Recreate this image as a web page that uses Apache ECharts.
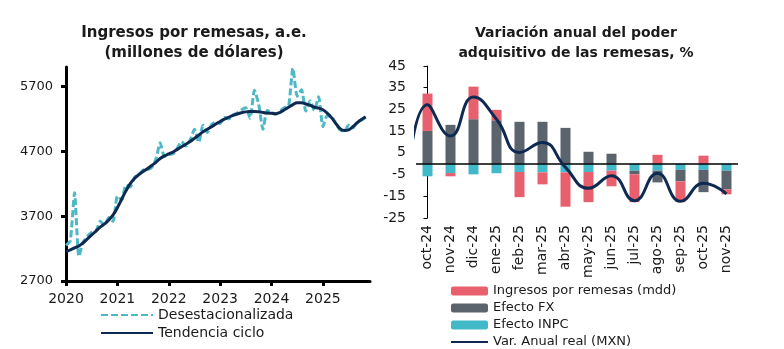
<!DOCTYPE html>
<html>
<head>
<meta charset="utf-8">
<script src="https://cdn.jsdelivr.net/npm/echarts@6/dist/echarts.min.js"></script>
<style>
  html, body { margin: 0; padding: 0; background: #ffffff; }
  #chart { width: 784px; height: 349px; }
</style>
</head>
<body>
<div id="chart"></div>
<script>
// ---- Ingresos por remesas (mensual, ene-2020 a nov-2025), millones de dólares ----
const yearTicks = [2020, 2021, 2022, 2023, 2024, 2025];
const remesasTickValues = [2700, 3700, 4700, 5700];
const desestacionalizada = [
  3250, 3320, 4060, 3080, 3300, 3390, 3450, 3470, 3620, 3560, 3680, 3620,
  4010, 3950, 4180, 4150, 4300, 4340, 4410, 4420, 4450, 4580, 4830, 4620,
  4650, 4660, 4750, 4850, 4780, 4870, 5040, 4840, 5100, 4990, 5110, 5150,
  5130, 5220, 5200, 5260, 5290, 5340, 5370, 5210, 5640, 5430, 5040, 5330,
  5300, 5270, 5320, 5370, 5400, 5980, 5550, 5650, 5320, 5480, 5330, 5540,
  5080, 5250, 5240, 5130, 5030, 5010, 5100, 5060, 5150, 5180, 5230
];
const tendenciaCiclo = [
  3150, 3180, 3210, 3240, 3290, 3350, 3410, 3470, 3530, 3580, 3640, 3720,
  3830, 3960, 4090, 4200, 4280, 4340, 4390, 4430, 4480, 4530, 4590, 4630,
  4660, 4690, 4730, 4770, 4810, 4850, 4900, 4950, 5000, 5040, 5080, 5120,
  5160, 5195, 5225, 5255, 5275, 5295, 5308, 5313, 5315, 5310, 5300, 5290,
  5285, 5280, 5300, 5340, 5380, 5420, 5450, 5450, 5430, 5410, 5380, 5365,
  5340, 5290, 5220, 5130, 5050, 5020, 5030, 5080, 5140, 5190, 5230
];

// ---- Variación anual del poder adquisitivo de las remesas, % ----
const meses = ['oct-24', 'nov-24', 'dic-24', 'ene-25', 'feb-25', 'mar-25', 'abr-25',
  'may-25', 'jun-25', 'jul-25', 'ago-25', 'sep-25', 'oct-25', 'nov-25'];
const pctTickValues = [-25, -15, -5, 5, 15, 25, 35, 45];
const efectoINPC = [-5.8, -4.3, -4.9, -4.4, -3.8, -4.0, -4.0, -3.8, -3.2, -3.2, -3.2, -2.8, -2.8, -3.2];
const efectoFX = [15.1, 17.9, 20.5, 20.0, 19.3, 19.3, 16.5, 5.5, 4.6, -1.7, -5.4, -5.3, -10.3, -8.6];
const ingresosMdd = [17.2, -1.5, 15.0, 4.8, -11.6, -5.5, -15.8, -13.9, -7.2, -12.8, 4.1, -9.6, 3.7, -2.3];
// the real annual change also has a sep-24 value, which falls just left of the plot
const varAnualSep24 = -24;
const varAnualReal = [27.1, 12.8, 30.7, 20.5, 5.2, 9.8, -1.7, -11.3, -5.5, -17.0, -4.4, -17.3, -9.0, -13.9];

const FONT = 'DejaVu Sans';
const TXT = '#1a1a1a';
const C_PINK = '#e8606e';
const C_GRAY = '#5b636d';
const C_CYAN = '#42b9c9';
const C_NAVY = '#0f2a52';
const C_TEAL = '#4db8c6';

const monthIdx = desestacionalizada.map((_, i) => i);
const varAnualPoints = [[-1, varAnualSep24]].concat(varAnualReal.map((v, i) => [i, v]));
const noSymbol = { opacity: 0 };

const chart = echarts.init(document.getElementById('chart'), null, { renderer: 'canvas' });

chart.setOption({
  backgroundColor: '#ffffff',
  animation: false,
  textStyle: { fontFamily: FONT, color: TXT },
  title: [
    {
      text: 'Ingresos por remesas, a.e.\n(millones de dólares)',
      left: 194, top: 23, textAlign: 'center', padding: 0,
      textStyle: { fontFamily: FONT, fontSize: 15, fontWeight: 'bold', color: TXT, lineHeight: 20 }
    },
    {
      text: 'Variación anual del poder\nadquisitivo de las remesas, %',
      left: 576, top: 23, textAlign: 'center', padding: 0,
      textStyle: { fontFamily: FONT, fontSize: 14, fontWeight: 'bold', color: TXT, lineHeight: 20 }
    }
  ],
  legend: [
    {
      data: [
        { name: 'Desestacionalizada', itemStyle: noSymbol },
        { name: 'Tendencia ciclo', itemStyle: noSymbol }
      ],
      orient: 'vertical', left: 100, top: 308, padding: 0, height: 60,
      itemWidth: 52, itemHeight: 14, itemGap: 4,
      textStyle: { fontFamily: FONT, fontSize: 14, color: TXT, lineHeight: 14 }
    },
    {
      data: [
        'Ingresos por remesas (mdd)', 'Efecto FX', 'Efecto INPC',
        { name: 'Var. Anual real (MXN)', itemStyle: noSymbol }
      ],
      orient: 'vertical', left: 450, top: 284, padding: 0, height: 90,
      itemWidth: 37, itemHeight: 9, itemGap: 3,
      textStyle: { fontFamily: FONT, fontSize: 13, color: TXT, lineHeight: 14 }
    }
  ],
  grid: [
    { left: 66, top: 67, width: 304, height: 214 },
    { left: 416, top: 66, width: 322, height: 152 }
  ],
  xAxis: [
    {
      gridIndex: 0, type: 'value', min: 0, max: 71,
      axisLine: { show: true, lineStyle: { color: '#000', width: 3 } },
      axisTick: { show: true, length: 5, lineStyle: { color: '#000', width: 3 },
                  customValues: yearTicks.map(y => (y - 2020) * 12) },
      axisLabel: { customValues: yearTicks.map(y => (y - 2020) * 12),
                   formatter: v => String(2020 + Math.round(v / 12)),
                   fontFamily: FONT, fontSize: 14, color: TXT, margin: 11 },
      splitLine: { show: false }
    },
    {
      gridIndex: 1, type: 'category', data: meses, boundaryGap: true,
      axisLine: { show: false, onZero: false },
      axisTick: { show: false },
      axisLabel: { rotate: 90, interval: 0, fontFamily: FONT, fontSize: 14, color: TXT, margin: 7 },
      splitLine: { show: false }
    },
    {
      gridIndex: 1, type: 'value', min: -0.5, max: 13.5, show: false
    }
  ],
  yAxis: [
    {
      gridIndex: 0, type: 'value', min: 2700, max: 6000,
      axisLine: { show: true, lineStyle: { color: '#000', width: 3 } },
      axisTick: { show: true, length: 5, lineStyle: { color: '#000', width: 3 },
                  customValues: remesasTickValues },
      axisLabel: { customValues: remesasTickValues, formatter: v => String(v),
                   fontFamily: FONT, fontSize: 13, color: TXT, margin: 13 },
      splitLine: { show: false }
    },
    {
      gridIndex: 1, type: 'value', min: -25, max: 45,
      axisLine: { show: true, lineStyle: { color: '#000', width: 1 } },
      axisTick: { show: true, length: 4, lineStyle: { color: '#000', width: 1 },
                  customValues: pctTickValues },
      axisLabel: { customValues: pctTickValues, fontFamily: FONT, fontSize: 14, color: TXT, margin: 10 },
      splitLine: { show: false }
    }
  ],
  series: [
    {
      name: 'Desestacionalizada', type: 'line', xAxisIndex: 0, yAxisIndex: 0,
      data: monthIdx.map(i => [i, desestacionalizada[i]]),
      symbol: 'none', smooth: 0.2,
      lineStyle: { color: C_TEAL, width: 3, type: [7, 3] },
      itemStyle: { color: C_TEAL }, z: 2
    },
    {
      name: 'Tendencia ciclo', type: 'line', xAxisIndex: 0, yAxisIndex: 0,
      data: monthIdx.map(i => [i, tendenciaCiclo[i]]),
      symbol: 'none', smooth: 0.4,
      lineStyle: { color: C_NAVY, width: 3 },
      itemStyle: { color: C_NAVY }, z: 3
    },
    {
      name: 'Efecto INPC', type: 'bar', xAxisIndex: 1, yAxisIndex: 1, stack: 'pa',
      data: efectoINPC, barWidth: 10, itemStyle: { color: C_CYAN }
    },
    {
      name: 'Efecto FX', type: 'bar', xAxisIndex: 1, yAxisIndex: 1, stack: 'pa',
      data: efectoFX, barWidth: 10, itemStyle: { color: C_GRAY }
    },
    {
      name: 'Ingresos por remesas (mdd)', type: 'bar', xAxisIndex: 1, yAxisIndex: 1, stack: 'pa',
      data: ingresosMdd, barWidth: 10, itemStyle: { color: C_PINK },
      markLine: {
        silent: true, symbol: 'none', label: { show: false },
        lineStyle: { color: '#000', width: 1.5, type: 'solid' },
        data: [{ yAxis: 0 }]
      }
    },
    {
      name: 'Var. Anual real (MXN)', type: 'line', xAxisIndex: 2, yAxisIndex: 1,
      data: varAnualPoints, symbol: 'none', smooth: 0.5, clip: true,
      lineStyle: { color: C_NAVY, width: 3 },
      itemStyle: { color: C_NAVY }, z: 5
    }
  ]
});
</script>
</body>
</html>
